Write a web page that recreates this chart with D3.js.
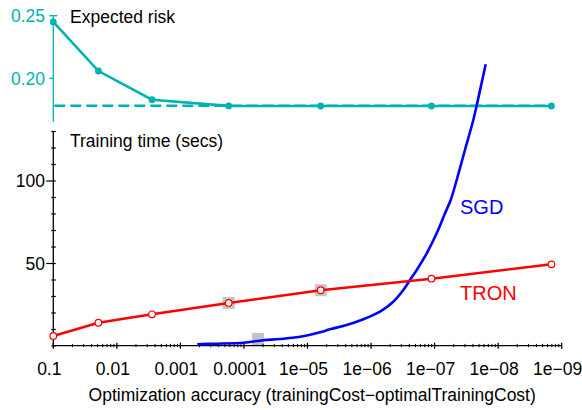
<!DOCTYPE html>
<html>
<head>
<meta charset="utf-8">
<script src="https://cdn.jsdelivr.net/npm/d3@7"></script>
<style>
    body { margin: 0; background: #fff; }
    svg text { font-family: "Liberation Sans", Arial, sans-serif; }
</style>
</head>
<body>
<div id="chart"></div>
<script>
// x positions shared by both panels (optimization accuracy)
var accuracy = [0.1, 0.0195, 0.0028, 1.74e-4, 6.2e-6, 1.12e-7, 1.45e-9];
// top panel
var expectedRisk = [0.245, 0.2059, 0.1830, 0.1781, 0.1780, 0.1780, 0.1780];
var bestRisk = 0.1783;
// bottom panel
var tronTime = [6.1, 14.1, 19.2, 26.1, 33.8, 40.8, 49.5];
var sgdAccuracy = [5.42e-4, 3.07e-4, 1.02e-4, 4.95e-5, 2.71e-5, 1.31e-5, 6.36e-6, 4.43e-6,
    2.42e-6, 1.32e-6, 7.23e-7, 4.47e-7, 3.11e-7, 2.44e-7, 1.91e-7, 1.33e-7, 9.27e-8,
    6.86e-8, 5.58e-8, 4.49e-8, 3.33e-8, 2.46e-8, 2.17e-8, 1.57e-8];
var sgdTime = [1.0, 1.4, 2.0, 3.5, 4.2, 5.6, 8.3, 10.1,
    12.7, 16.2, 20.8, 26.8, 33.9, 40.0, 46.1, 56.2, 68.3,
    80.4, 88.5, 100.6, 118.8, 137.0, 146.0, 170.7];
// grey markers
var markAccuracy = [1.74e-4, 6.2e-6, 6.0e-5];
var markTime = [26.1, 33.8, 4.2];
// tick labels
var xTicks = [0.1, 0.01, 0.001, 0.0001, 1e-5, 1e-6, 1e-7, 1e-8, 1e-9];
var xTickLabels = ["0.1", "0.01", "0.001", "0.0001", "1e\u221205", "1e\u221206", "1e\u221207", "1e\u221208", "1e\u221209"];
var riskTicks = [0.20, 0.25];
var riskTickLabels = ["0.20", "0.25"];
var timeTicks = [50, 100];
var timeTickLabels = ["50", "100"];

var width = 582, height = 410;
var teal = "#00b2b2";
var fontSize = "17.5px";

var svg = d3.select("#chart").append("svg")
    .attr("width", width)
    .attr("height", height);

var x = d3.scaleLog().domain([0.1, 1e-9]).range([53.3, 561.7]);
var yRisk = d3.scaleLinear().domain([0.1655, 0.25]).range([121.7, 15.7]);
var yTime = d3.scaleLinear().domain([0, 130]).range([346, 131.5]);

// ---------- top panel: expected risk ----------
var riskPanel = svg.append("g");

riskPanel.append("line")
    .attr("x1", x(0.1)).attr("x2", x(0.1))
    .attr("y1", yRisk(0.25)).attr("y2", yRisk(0.1655))
    .attr("stroke", teal).attr("stroke-width", 1.3);

riskTicks.forEach(function (t, i) {
    riskPanel.append("line")
        .attr("x1", x(0.1) - 4).attr("x2", x(0.1) + (i == riskTicks.length - 1 ? 4 : 0))
        .attr("y1", yRisk(t)).attr("y2", yRisk(t))
        .attr("stroke", teal).attr("stroke-width", 1.3);
    riskPanel.append("text")
        .attr("x", 45).attr("y", yRisk(t))
        .attr("dy", "0.35em")
        .attr("text-anchor", "end")
        .attr("font-size", fontSize)
        .attr("fill", teal)
        .text(riskTickLabels[i]);
});

riskPanel.append("line")
    .attr("x1", x(0.1) + 1).attr("x2", x(accuracy[accuracy.length - 1]))
    .attr("y1", yRisk(bestRisk)).attr("y2", yRisk(bestRisk))
    .attr("stroke", teal).attr("stroke-width", 2.5)
    .attr("stroke-dasharray", "11,5");

var riskPoints = accuracy.map(function (a, i) { return [a, expectedRisk[i]]; });
riskPanel.append("path")
    .datum(riskPoints)
    .attr("fill", "none")
    .attr("stroke", teal).attr("stroke-width", 2.6)
    .attr("d", d3.line().x(function (d) { return x(d[0]); }).y(function (d) { return yRisk(d[1]); }));

riskPanel.selectAll("circle.risk")
    .data(riskPoints)
    .enter().append("circle")
    .attr("class", "risk")
    .attr("cx", function (d) { return x(d[0]); })
    .attr("cy", function (d) { return yRisk(d[1]); })
    .attr("r", 3.4)
    .attr("fill", teal);

riskPanel.append("text")
    .attr("x", 70).attr("y", 17)
    .attr("dy", "0.35em")
    .attr("font-size", fontSize)
    .attr("fill", "#000")
    .text("Expected risk");

// ---------- bottom panel: training time ----------
var timePanel = svg.append("g");

// grey squares first so the curves go over them
timePanel.selectAll("rect.mark")
    .data(markAccuracy)
    .enter().append("rect")
    .attr("class", "mark")
    .attr("x", function (d) { return x(d) - 6; })
    .attr("y", function (d, i) { return yTime(markTime[i]) - 6; })
    .attr("width", 12).attr("height", 12)
    .attr("fill", "#c4c4c4");

// y axis
timePanel.append("line")
    .attr("x1", x(0.1)).attr("x2", x(0.1))
    .attr("y1", yTime(130)).attr("y2", yTime(0))
    .attr("stroke", "#000").attr("stroke-width", 1.3);

d3.range(0, 131, 10).forEach(function (t) {
    var major = timeTicks.indexOf(t) >= 0;
    timePanel.append("line")
        .attr("x1", x(0.1) - (major ? 7 : 2)).attr("x2", x(0.1) + 2.5)
        .attr("y1", yTime(t)).attr("y2", yTime(t))
        .attr("stroke", "#000").attr("stroke-width", 1.2);
});

timeTicks.forEach(function (t, i) {
    timePanel.append("text")
        .attr("x", 45).attr("y", yTime(t))
        .attr("dy", "0.35em")
        .attr("text-anchor", "end")
        .attr("font-size", fontSize)
        .attr("fill", "#000")
        .text(timeTickLabels[i]);
});

// x axis
var axisY = 345.7;
timePanel.append("line")
    .attr("x1", x(0.1)).attr("x2", x(1e-9))
    .attr("y1", axisY).attr("y2", axisY)
    .attr("stroke", "#000").attr("stroke-width", 1.3);

xTicks.forEach(function (t, i) {
    timePanel.append("line")
        .attr("x1", x(t)).attr("x2", x(t))
        .attr("y1", axisY - 3).attr("y2", axisY + 3)
        .attr("stroke", "#000").attr("stroke-width", 1.3);
    if (i < xTicks.length - 1) {
        // minor ticks at decade / m
        for (var m = 2; m <= 9; m++) {
            timePanel.append("line")
                .attr("x1", x(t / m)).attr("x2", x(t / m))
                .attr("y1", axisY - 1.8).attr("y2", axisY + 1.5)
                .attr("stroke", "#000").attr("stroke-width", 1);
        }
    }
    timePanel.append("text")
        .attr("x", x(t) - 4).attr("y", 368.5)
        .attr("dy", "0.35em")
        .attr("text-anchor", "middle")
        .attr("font-size", fontSize)
        .attr("fill", "#000")
        .text(xTickLabels[i]);
});

svg.append("text")
    .attr("x", 312.2).attr("y", 395)
    .attr("dy", "0.35em")
    .attr("text-anchor", "middle")
    .attr("font-size", fontSize)
    .attr("fill", "#000")
    .text("Optimization accuracy (trainingCost\u2212optimalTrainingCost)");

timePanel.append("text")
    .attr("x", 70).attr("y", 140.7)
    .attr("dy", "0.35em")
    .attr("font-size", fontSize)
    .attr("fill", "#000")
    .text("Training time (secs)");

// SGD curve
var sgdPoints = sgdAccuracy.map(function (a, i) { return [a, sgdTime[i]]; });
timePanel.append("path")
    .datum(sgdPoints)
    .attr("fill", "none")
    .attr("stroke", "#0000ff").attr("stroke-width", 2.6)
    .attr("d", d3.line()
        .curve(d3.curveCatmullRom.alpha(0.5))
        .x(function (d) { return x(d[0]); })
        .y(function (d) { return yTime(d[1]); }));

// TRON line
var tronPoints = accuracy.map(function (a, i) { return [a, tronTime[i]]; });
timePanel.append("path")
    .datum(tronPoints)
    .attr("fill", "none")
    .attr("stroke", "#ff0000").attr("stroke-width", 2.5)
    .attr("d", d3.line().x(function (d) { return x(d[0]); }).y(function (d) { return yTime(d[1]); }));

timePanel.selectAll("circle.tron")
    .data(tronPoints)
    .enter().append("circle")
    .attr("class", "tron")
    .attr("cx", function (d) { return x(d[0]); })
    .attr("cy", function (d) { return yTime(d[1]); })
    .attr("r", 3.3)
    .attr("fill", "#fff")
    .attr("stroke", "#ff0000").attr("stroke-width", 1.2);

timePanel.append("text")
    .attr("x", 460).attr("y", 207)
    .attr("dy", "0.35em")
    .attr("font-size", "20px")
    .attr("fill", "#0000ff")
    .text("SGD");

timePanel.append("text")
    .attr("x", 460).attr("y", 293)
    .attr("dy", "0.35em")
    .attr("font-size", "20px")
    .attr("fill", "#ff0000")
    .text("TRON");
</script>
</body>
</html>
